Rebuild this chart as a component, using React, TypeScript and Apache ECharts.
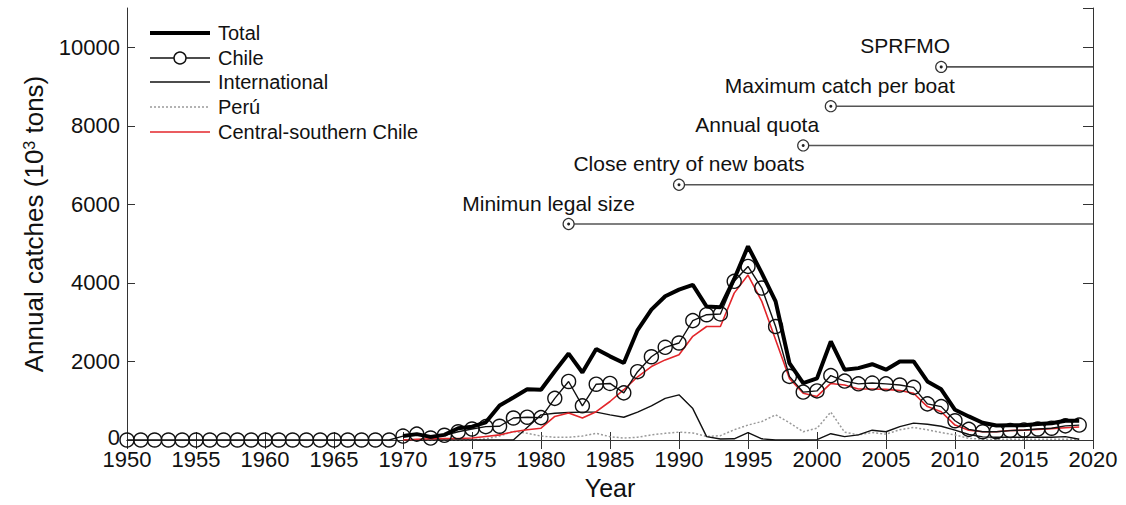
import React, { useEffect, useRef } from "react";
import * as echarts from "echarts";

// ---------- data ----------
const chileStart = 1950;
const chile = [
  0, 0, 0, 0, 0, 0, 0, 0, 0, 0, 0, 0, 0, 0, 0, 0, 0, 0, 0, 0,
  100, 150, 50, 120, 210, 280, 340, 350, 560, 580,
  570, 1060, 1490, 870, 1420, 1440, 1200, 1740, 2120, 2360,
  2470, 3040, 3190, 3210, 4040, 4420, 3870, 2890, 1620, 1220,
  1250, 1640, 1500, 1430, 1450, 1430, 1400, 1340, 920, 850,
  490, 270, 210, 210, 240, 255, 280, 300, 360, 380,
];

const seriesStart = 1970;
const total = [
  100, 150, 80, 130, 300, 340, 450, 880, 1080, 1290,
  1280, 1750, 2200, 1720, 2320, 2130, 1960, 2800, 3320, 3660,
  3830, 3950, 3400, 3380, 4100, 4930, 4250, 3530, 1960, 1450,
  1570, 2510, 1790, 1830, 1930, 1790, 2000, 2000, 1490, 1290,
  770, 600, 440, 370, 375, 375, 410, 425, 490, 490,
];
const international = [
  0, 0, 0, 0, 0, 0, 0, 0, 0, 320,
  640, 680, 700, 710, 710, 640, 580, 710, 870, 1060,
  1150, 800, 85, 25, 30, 190, 30, 0, 0, 0,
  10, 160, 85, 130, 250, 210, 340, 430, 400, 350,
  250, 140, 80, 70, 70, 70, 70, 70, 85, 20,
];
const peru = [
  0, 0, 0, 0, 0, 0, 30, 100, 220, 170,
  100, 70, 70, 100, 170, 85, 50, 70, 130, 170,
  200, 180, 90, 110, 260, 380, 470, 640, 440, 210,
  300, 710, 200, 130, 190, 150, 260, 320, 260, 190,
  130, 40, 20, 20, 20, 20, 20, 20, 20, 20,
];
const centralSouth = [
  0, 20, 30, 40, 40, 50, 90, 130, 210, 260,
  300, 600, 690, 560, 720, 980, 1280, 1610, 1870, 2040,
  2170, 2640, 2890, 2890, 3740, 4200, 3530, 2550, 1570, 1190,
  1110, 1440, 1400, 1300, 1300, 1290, 1260, 1190, 850, 720,
  380, 250, 210, 210, 240, 250, 270, 290, 310, 330,
];

const legendNames = ["Total", "Chile", "International", "Perú", "Central-southern Chile"];

const annotationLabels = [
  "Minimun legal size",
  "Close entry of new boats",
  "Annual quota",
  "Maximum catch per boat",
  "SPRFMO",
];
const annotationYears = [1982, 1990, 1999, 2001, 2009];
const annotationLevels = [5500, 6500, 7500, 8500, 9500];

const xMin = 1950;
const xMax = 2020;
const xStep = 5;
const yMin = 0;
const yMax = 11000;
const yStep = 2000;

// ---------- styling (not data) ----------
const labelShiftX = [-20, 10, -46, 9, -36];
const FONT = "'Liberation Sans', Arial, Helvetica, sans-serif";
const C_TOTAL = "#000";
const C_CHILE = "#111";
const C_INT = "#111";
const C_PERU = "#9a9a9a";
const C_RED = "#e3262b";

const pairs = (start: number, arr: number[]) => arr.map((v, i) => [start + i, v]);

export default function App() {
  const ref = useRef<HTMLDivElement>(null);

  useEffect(() => {
    if (!ref.current) return;
    const chart = echarts.init(ref.current, undefined, { renderer: "svg" });

    const lineBase = {
      type: "line" as const,
      showSymbol: false,
      symbol: "none",
      animation: false,
    };

    const annLines = annotationLabels.map((name, i) => ({
      type: "line" as const,
      name: "_ann" + i,
      data: [
        [annotationYears[i], annotationLevels[i]],
        [xMax, annotationLevels[i]],
      ],
      symbol: "none",
      lineStyle: { color: "#555", width: 1.6 },
      silent: true,
      z: 2,
    }));

    const annPoints = {
      type: "scatter" as const,
      name: "_annPts",
      symbol: "circle",
      symbolSize: 11,
      itemStyle: { color: "#fff", borderColor: "#333", borderWidth: 1.2, opacity: 1 },
      data: annotationLabels.map((name, i) => ({
        name,
        value: [annotationYears[i], annotationLevels[i]],
        label: {
          show: true,
          position: "inside",
          offset: [labelShiftX[i], -21],
          formatter: name,
          fontFamily: FONT,
          fontSize: 21,
          color: "#111",
        },
      })),
      silent: true,
      z: 4,
    };
    const annDots = {
      type: "scatter" as const,
      name: "_annDots",
      symbol: "circle",
      symbolSize: 3,
      itemStyle: { color: "#222", opacity: 1 },
      data: annotationLabels.map((_, i) => [annotationYears[i], annotationLevels[i]]),
      silent: true,
      z: 5,
    };

    // hand-drawn legend (MATLAB style)
    const legendRowsY = [33, 58, 82, 107, 132];
    const legendStyles = [
      { stroke: C_TOTAL, lineWidth: 4 },
      { stroke: C_CHILE, lineWidth: 1.4 },
      { stroke: C_INT, lineWidth: 1.4 },
      { stroke: C_PERU, lineWidth: 1.5, lineDash: [2, 2] },
      { stroke: C_RED, lineWidth: 1.6 },
    ];
    const legendGraphics: any[] = [];
    legendNames.forEach((name, i) => {
      const y = legendRowsY[i];
      legendGraphics.push({
        type: "line",
        shape: { x1: 150, y1: y, x2: 210, y2: y },
        style: legendStyles[i],
        silent: true,
      });
      if (name === "Chile") {
        legendGraphics.push({
          type: "circle",
          shape: { cx: 180, cy: y, r: 6 },
          style: { fill: "#fff", stroke: C_CHILE, lineWidth: 1.4 },
          silent: true,
        });
      }
      legendGraphics.push({
        type: "text",
        x: 218,
        y,
        style: {
          text: name,
          fontFamily: FONT,
          fontSize: 20,
          fill: "#111",
          verticalAlign: "middle",
          textAlign: "left",
        },
        silent: true,
      });
    });

    const option: any = {
      animation: false,
      backgroundColor: "#fff",
      textStyle: { fontFamily: FONT },
      grid: { left: 127, right: 33, top: 8, bottom: 64, containLabel: false },
      graphic: { elements: legendGraphics },
      xAxis: [
        {
          type: "value",
          min: xMin,
          max: xMax,
          interval: xStep,
          position: "bottom",
          axisLine: { lineStyle: { color: "#333", width: 1 } },
          axisTick: { inside: true, length: 8, lineStyle: { color: "#333" } },
          axisLabel: {
            fontFamily: FONT,
            fontSize: 22,
            lineHeight: 16,
            color: "#111",
            margin: 11,
            formatter: (v: number) => String(v),
          },
          splitLine: { show: false },
          name: "Year",
          nameLocation: "middle",
          nameGap: 35,
          nameTextStyle: { fontFamily: FONT, fontSize: 25, color: "#111" },
        },
        {
          type: "value",
          min: xMin,
          max: xMax,
          interval: xStep,
          position: "top",
          axisLine: { show: true, lineStyle: { color: "#333", width: 1 } },
          axisTick: { inside: true, length: 9, lineStyle: { color: "#333" } },
          axisLabel: { show: false },
          splitLine: { show: false },
        },
      ],
      yAxis: [
        {
          type: "value",
          min: yMin,
          max: yMax,
          interval: yStep,
          position: "left",
          axisLine: { show: true, lineStyle: { color: "#333", width: 1 } },
          axisTick: { show: true, inside: true, length: 8, lineStyle: { color: "#333" } },
          axisLabel: {
            fontFamily: FONT,
            fontSize: 22,
            lineHeight: 16,
            color: "#111",
            margin: 7,
            showMaxLabel: false,
            formatter: (v: number) => (v > 10000 ? "" : v === 0 ? "{z|0}" : String(v)),
            rich: {
              z: { fontFamily: FONT, fontSize: 22, lineHeight: 16, color: "#111", padding: [0, 0, 6, 0] },
            },
          },
          splitLine: { show: false },
          name: "{a|Annual catches (10}{s|3}{a| tons)}",
          nameLocation: "middle",
          nameGap: 80,
          nameRotate: 90,
          nameTextStyle: {
            fontFamily: FONT,
            fontSize: 26,
            color: "#111",
            rich: {
              a: { fontFamily: FONT, fontSize: 26, color: "#111", lineHeight: 26 },
              s: { fontFamily: FONT, fontSize: 16, color: "#111", lineHeight: 12, verticalAlign: "top" },
            },
          },
        },
        {
          type: "value",
          min: yMin,
          max: yMax,
          interval: yStep,
          position: "right",
          axisLine: { show: true, lineStyle: { color: "#333", width: 1 } },
          axisTick: { show: true, inside: true, length: 10, lineStyle: { color: "#333" } },
          axisLabel: { show: false },
          splitLine: { show: false },
        },
      ],
      series: [
        ...annLines,
        annPoints,
        annDots,
        {
          ...lineBase,
          name: "Perú",
          data: pairs(seriesStart, peru),
          lineStyle: { color: C_PERU, width: 1.5, type: [2, 2] },
          itemStyle: { color: C_PERU },
          z: 3,
        },
        {
          ...lineBase,
          name: "International",
          data: pairs(seriesStart, international),
          lineStyle: { color: C_INT, width: 1.4 },
          itemStyle: { color: C_INT },
          z: 4,
        },
        {
          ...lineBase,
          name: "Central-southern Chile",
          data: pairs(seriesStart, centralSouth),
          lineStyle: { color: C_RED, width: 1.6 },
          itemStyle: { color: C_RED },
          z: 5,
        },
        {
          type: "line",
          name: "Chile",
          data: pairs(chileStart, chile),
          symbol: "circle",
          symbolSize: 14,
          showSymbol: true,
          showAllSymbol: true,
          lineStyle: { color: C_CHILE, width: 1.4 },
          itemStyle: { color: "rgba(0,0,0,0)", borderColor: C_CHILE, borderWidth: 1.4, opacity: 1 },
          z: 6,
        },
        {
          ...lineBase,
          name: "Total",
          data: pairs(seriesStart, total),
          lineStyle: { color: C_TOTAL, width: 4 },
          itemStyle: { color: C_TOTAL },
          z: 7,
        },
      ],
    };

    chart.setOption(option);
    return () => chart.dispose();
  }, []);

  return (
    <div
      ref={ref}
      style={{ position: "absolute", left: 0, top: 0, width: 1126, height: 505, background: "#fff" }}
    />
  );
}
